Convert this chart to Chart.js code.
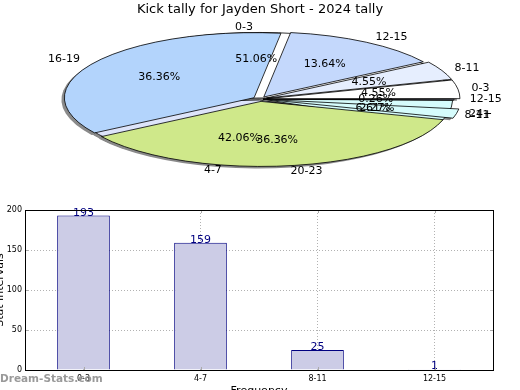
<!DOCTYPE html>
<html>
<head>
<meta charset="utf-8">
<script src="https://cdn.jsdelivr.net/npm/chart.js@4.4.1/dist/chart.umd.min.js"></script>
<style>
  html, body { margin: 0; padding: 0; background: #fff; }
  #wrap { position: relative; width: 520px; height: 390px; overflow: hidden; background: #fff; }
  canvas { position: absolute; }
  #pieBack, #pieFront { left: 0; top: 0; }
  #bars { left: -8px; top: 195px; }
  #marca { position: absolute; left: 0; top: 372px; font: bold 10.5px "DejaVu Sans", sans-serif; color: #9a9a9a; }
</style>
</head>
<body>
<div id="wrap">
  <canvas id="pieBack" width="520" height="195"></canvas>
  <canvas id="pieFront" width="520" height="195"></canvas>
  <canvas id="bars" width="528" height="203"></canvas>
  <div id="marca">Dream-Stats.com</div>
</div>
<script>
// datos del grafico de barras (tambien forman la torta de abajo)
const categorias = ['0-3', '4-7', '8-11', '12-15'];
const frecuencias = [193, 159, 25, 1];
const coloresAbajo = ['#ffffff', '#dde4fa', '#d6fcfc', '#c6d8fc'];

// segunda torta, porcentajes
const etiquetasArriba = ['0-3', '8-11', '12-15', '16-19', '20-23', '24+'];
const porcentajesArriba = [4.55, 4.55, 13.64, 36.36, 36.36, 2.27];
const coloresArriba = ['#ffffff', '#e6eefe', '#c4d8fc', '#b3d4fc', '#cfe88a', '#d6fcfc'];

const marcasY = [0, 50, 100, 150, 200];
const titulo = 'Kick tally for Jayden Short - 2024 tally';

const K = 0.343;          // achatamiento vertical de la torta
const fuente = '"DejaVu Sans", sans-serif';

let tortaAbajo = null;
let tortaArriba = null;

function geometria(arc) {
  const off = (arc.options.offset || 0) / 4;
  const half = (arc.startAngle + arc.endAngle) / 2;
  const circ = arc.endAngle - arc.startAngle;
  const r = arc.outerRadius + off * (1 - Math.sin(Math.min(Math.PI, circ)));
  return { half, off, r, x: arc.x + Math.cos(half) * off, y: arc.y + Math.sin(half) * off };
}

function aPantalla(arc, px, py) {
  return [px, arc.y - K * (py - arc.y)];
}

function caminoCuña(ctx, arc, dx, dy) {
  const g = geometria(arc);
  const [sx, sy] = aPantalla(arc, g.x, g.y);
  ctx.beginPath();
  ctx.moveTo(sx + dx, sy + dy);
  ctx.ellipse(sx + dx, sy + dy, g.r, g.r * K, 0, -arc.startAngle, -arc.endAngle, true);
  ctx.closePath();
}

// aplasta la torta en elipse y dibuja los bordes ya sin transformar
const achatar = {
  id: 'achatar',
  beforeDatasetsDraw(chart, args, opts) {
    const ctx = chart.ctx;
    const a = chart.getDatasetMeta(0).data[0];
    if (opts.sombra) {
      ctx.save();
      ctx.fillStyle = '#8a8a8a';
      [tortaAbajo, tortaArriba].forEach(c => {
        if (!c) return;
        c.getDatasetMeta(0).data.forEach(arc => { caminoCuña(ctx, arc, -3, 2); ctx.fill(); });
      });
      chart.getDatasetMeta(0).data.forEach(arc => { caminoCuña(ctx, arc, -3, 2); ctx.fill(); });
      ctx.restore();
    }
    ctx.save();
    ctx.translate(a.x, a.y);
    ctx.scale(1, -K);
    ctx.translate(-a.x, -a.y);
  },
  afterDatasetsDraw(chart) {
    const ctx = chart.ctx;
    ctx.restore();
    ctx.save();
    ctx.strokeStyle = '#000';
    ctx.lineWidth = 0.8;
    chart.getDatasetMeta(0).data.forEach(arc => { caminoCuña(ctx, arc, 0, 0); ctx.stroke(); });
    ctx.restore();
  }
};

function textosTorta(ctx, chart, etiquetas, pcts) {
  chart.getDatasetMeta(0).data.forEach((arc, i) => {
    const g = geometria(arc);
    const r = arc.outerRadius;
    const c = Math.cos(g.half), s = Math.sin(g.half);
    let [lx, ly] = aPantalla(arc, arc.x + c * (g.off + 1.1 * r), arc.y + s * (g.off + 1.1 * r));
    ctx.textAlign = c > 0 ? 'left' : 'right';
    ctx.fillText(etiquetas[i], lx, ly);
    let [px, py] = aPantalla(arc, arc.x + c * (g.off + 0.6 * r), arc.y + s * (g.off + 0.6 * r));
    ctx.textAlign = 'center';
    ctx.fillText(pcts[i] + '%', px, py);
  });
}

const rotulos = {
  id: 'rotulos',
  afterDraw(chart) {
    const ctx = chart.ctx;
    ctx.save();
    ctx.font = '11px ' + fuente;
    ctx.fillStyle = '#000';
    ctx.textBaseline = 'middle';
    const total = frecuencias.reduce((a, b) => a + b, 0);
    if (tortaAbajo) {
      textosTorta(ctx, tortaAbajo, categorias, frecuencias.map(v => (v / total * 100).toFixed(2)));
    }
    textosTorta(ctx, chart, etiquetasArriba, porcentajesArriba.map(v => v.toFixed(2)));
    ctx.restore();
  }
};

function opcionesTorta(colorTitulo, circ, sombra) {
  return {
    responsive: false,
    animation: false,
    events: [],
    rotation: 90,
    circumference: circ,
    radius: 188,
    layout: { padding: { bottom: 16.6 } },
    plugins: {
      legend: { display: false },
      tooltip: { enabled: false },
      title: {
        display: true, text: titulo, color: colorTitulo,
        font: { family: fuente, size: 13, weight: 'normal' },
        padding: { top: 2, bottom: 2 }
      },
      achatar: { sombra: sombra }
    }
  };
}

tortaAbajo = new Chart(document.getElementById('pieBack'), {
  type: 'pie',
  data: {
    labels: categorias,
    datasets: [{ data: frecuencias, backgroundColor: coloresAbajo, borderWidth: 0, offset: 12, clip: false }]
  },
  options: opcionesTorta('rgba(0,0,0,0)', 360, true),
  plugins: [achatar]
});

const sumaArriba = porcentajesArriba.reduce((a, b) => a + b, 0);
tortaArriba = new Chart(document.getElementById('pieFront'), {
  type: 'pie',
  data: {
    labels: etiquetasArriba,
    datasets: [{ data: porcentajesArriba, backgroundColor: coloresArriba, borderWidth: 0, offset: 28, clip: false }]
  },
  options: opcionesTorta('#000', sumaArriba * 3.6, false),
  plugins: [achatar, rotulos]
});
// redibujar la de abajo para que la sombra incluya la segunda torta
tortaAbajo.draw();

// marco negro y valores sobre las barras
const marco = {
  id: 'marco',
  afterDatasetsDraw(chart) {
    const ctx = chart.ctx;
    ctx.save();
    ctx.font = '11px ' + fuente;
    ctx.fillStyle = '#000080';
    ctx.textAlign = 'center';
    ctx.textBaseline = 'alphabetic';
    chart.getDatasetMeta(0).data.forEach((bar, i) => {
      ctx.fillText(String(frecuencias[i]), bar.x, bar.y);
    });
    ctx.restore();
  },
  afterDraw(chart) {
    const ctx = chart.ctx;
    const a = chart.chartArea;
    ctx.save();
    ctx.strokeStyle = '#aaa';
    ctx.lineWidth = 1;
    ctx.beginPath();
    marcasY.forEach(v => {
      const y = Math.round(chart.scales.y.getPixelForValue(v)) + 0.5;
      ctx.moveTo(a.left, y); ctx.lineTo(a.left + 3, y);
      ctx.moveTo(a.right, y); ctx.lineTo(a.right - 3, y);
    });
    categorias.forEach((c, i) => {
      const x = Math.round(chart.scales.x.getPixelForValue(i)) + 0.5;
      ctx.moveTo(x, a.bottom); ctx.lineTo(x, a.bottom - 3);
      ctx.moveTo(x, a.top); ctx.lineTo(x, a.top + 3);
    });
    ctx.stroke();
    ctx.strokeStyle = '#000';
    ctx.strokeRect(Math.round(a.left) + 0.5, Math.round(a.top) + 0.5, Math.round(a.right - a.left), Math.round(a.bottom - a.top));
    ctx.restore();
  }
};

new Chart(document.getElementById('bars'), {
  type: 'bar',
  data: {
    labels: categorias,
    datasets: [{
      data: frecuencias,
      backgroundColor: 'rgb(204,204,230)',
      borderColor: 'rgb(0,0,128)',
      borderWidth: 1,
      barPercentage: 0.45,
      categoryPercentage: 1
    }]
  },
  options: {
    responsive: false,
    animation: false,
    events: [],
    layout: { padding: { top: 15, right: 27, left: 0, bottom: 0 } },
    plugins: { legend: { display: false }, tooltip: { enabled: false } },
    scales: {
      x: {
        grid: { offset: false, color: 'rgba(0,0,0,0.3)', drawTicks: false },
        border: { display: false, dash: [1, 2] },
        ticks: { color: '#000', font: { family: fuente, size: 8 }, padding: 4, maxRotation: 0 },
        title: { display: true, text: 'Frequency', color: '#000', font: { family: fuente, size: 11 }, padding: 0 },
        afterFit: s => { s.height = 28; }
      },
      y: {
        min: 0, max: 200,
        afterBuildTicks: s => { s.ticks = marcasY.map(v => ({ value: v })); },
        grid: { color: 'rgba(0,0,0,0.3)', drawTicks: false },
        border: { display: false, dash: [1, 2] },
        ticks: { color: '#000', font: { family: fuente, size: 8 }, padding: 3 },
        title: { display: true, text: 'Stat Intervals', color: '#000', font: { family: fuente, size: 11 }, padding: { top: 2, bottom: 0 } },
        afterFit: s => { s.width = 33; }
      }
    }
  },
  plugins: [marco]
});
</script>
</body>
</html>
